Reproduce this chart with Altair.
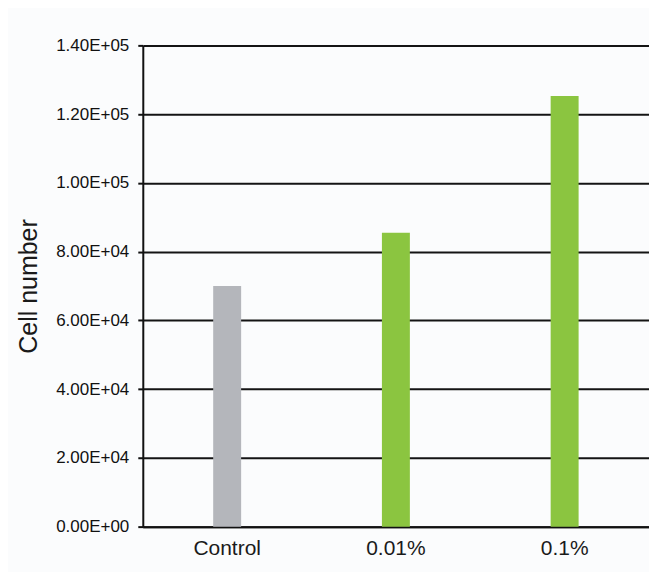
import altair as alt
import pandas as pd

categories = ["Control", "0.01%", "0.1%"]
values = [70000, 85500, 125300]
colors = ["#b4b6bb", "#8bc540", "#8bc540"]

df = pd.DataFrame({"group": categories, "cells": values, "color": colors})

label_expr = (
    "datum.value == 0 ? '0.00E+00' : "
    "format(datum.value / pow(10, floor(log(datum.value)/LN10 + 1e-9)), '.2f') + 'E+0' + "
    "floor(log(datum.value)/LN10 + 1e-9)"
)

chart = alt.Chart(df).mark_bar(size=28).encode(
    x=alt.X(
        "group:N",
        sort=categories,
        scale=alt.Scale(paddingInner=0, paddingOuter=0),
        axis=alt.Axis(
            title=None, labelAngle=0, ticks=False, labelFontSize=21,
            labelFont="Liberation Sans", labelColor="#1a1a1a", labelPadding=11,
            domainColor="#111111", domainWidth=2, grid=False,
        ),
    ),
    y=alt.Y(
        "cells:Q",
        scale=alt.Scale(domain=[0, 140000], nice=False),
        axis=alt.Axis(
            title="Cell number", values=[0, 20000, 40000, 60000, 80000, 100000, 120000, 140000],
            labelExpr=label_expr, labelFontSize=17,
            labelFont="Liberation Sans",
            labelColor="#111111", labelPadding=9, tickSize=5, tickColor="#111111",
            tickWidth=2, domainColor="#111111", domainWidth=2,
            grid=True, gridColor="#141414", gridWidth=2,
            titleFontSize=25, titleFont="Liberation Sans", titleFontWeight="normal",
            titleColor="#1a1a1a", titlePadding=14,
        ),
    ),
    color=alt.Color("color:N", scale=None, legend=None),
).properties(
    width=507,
    height=482,
    autosize=alt.AutoSizeParams(type="none"),
    padding={"left": 135, "top": 37, "right": 0, "bottom": 45},
    background="#fbfcfd",
).configure_view(stroke=None)

chart.save("out.html", embed_options={"renderer": "svg", "actions": False})
